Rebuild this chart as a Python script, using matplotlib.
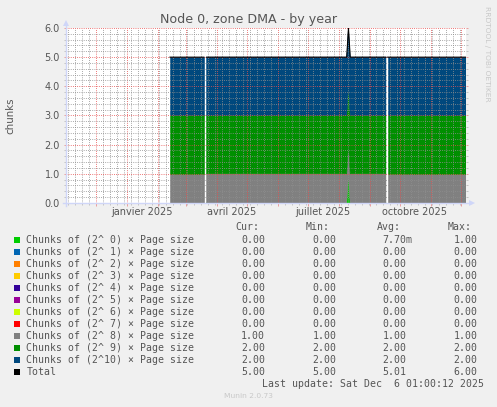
import matplotlib
matplotlib.use("Agg")
import matplotlib.pyplot as plt
import matplotlib.dates as mdates
from matplotlib.ticker import MultipleLocator, NullFormatter
from matplotlib.patches import Rectangle
import numpy as np
import pandas as pd

# sample times (NaN rows mark the two gaps)
times = ["2025-02-13 00:00", "2025-03-19 00:00", "2025-03-20 00:00",
         "2025-03-21 16:00", "2025-08-08 18:00", "2025-08-10 12:00",
         "2025-08-12 06:00", "2025-09-17 00:00", "2025-09-18 00:00",
         "2025-09-18 16:00", "2025-12-05 16:00"]
nan = np.nan
order0 = [0, 0, nan, 0, 0, 1, 0, 0, nan, 0, 0]
order1 = [0, 0, nan, 0, 0, 0, 0, 0, nan, 0, 0]
order2 = [0, 0, nan, 0, 0, 0, 0, 0, nan, 0, 0]
order3 = [0, 0, nan, 0, 0, 0, 0, 0, nan, 0, 0]
order4 = [0, 0, nan, 0, 0, 0, 0, 0, nan, 0, 0]
order5 = [0, 0, nan, 0, 0, 0, 0, 0, nan, 0, 0]
order6 = [0, 0, nan, 0, 0, 0, 0, 0, nan, 0, 0]
order7 = [0, 0, nan, 0, 0, 0, 0, 0, nan, 0, 0]
order8 = [1, 1, nan, 1, 1, 1, 1, 1, nan, 1, 1]
order9 = [2, 2, nan, 2, 2, 2, 2, 2, nan, 2, 2]
order10 = [2, 2, nan, 2, 2, 2, 2, 2, nan, 2, 2]

labels = ["Chunks of (2^ 0) × Page size", "Chunks of (2^ 1) × Page size",
          "Chunks of (2^ 2) × Page size", "Chunks of (2^ 3) × Page size",
          "Chunks of (2^ 4) × Page size", "Chunks of (2^ 5) × Page size",
          "Chunks of (2^ 6) × Page size", "Chunks of (2^ 7) × Page size",
          "Chunks of (2^ 8) × Page size", "Chunks of (2^ 9) × Page size",
          "Chunks of (2^10) × Page size", "Total"]
colors = ["#00CC00", "#0066B3", "#FF8000", "#FFCC00", "#330099", "#990099",
          "#CCFF00", "#FF0000", "#808080", "#008F00", "#00487D", "#000000"]

cur = [0, 0, 0, 0, 0, 0, 0, 0, 1, 2, 2, 5]
mins = [0, 0, 0, 0, 0, 0, 0, 0, 1, 2, 2, 5]
avgs = [0.0077, 0, 0, 0, 0, 0, 0, 0, 1, 2, 2, 5.01]
maxs = [1, 0, 0, 0, 0, 0, 0, 0, 1, 2, 2, 6]

month_labels = ["janvier 2025", "avril 2025", "juillet 2025", "octobre 2025"]
label_dates = ["2025-01-16", "2025-04-16", "2025-07-16", "2025-10-16"]

start = pd.Timestamp("2024-11-01 01:00")
end = pd.Timestamp("2025-12-06 01:00")

W, H = 497, 407
font_col = "#555555"
axis_col = "#CFD6F8"
minor_col = (0.56, 0.56, 0.56, 0.3)
major_col = (0.91, 0.31, 0.31, 0.33)

fig = plt.figure(figsize=(W / 100, H / 100), dpi=100, facecolor="#F0F0F0")

# overlay in pixel coordinates for title / legend text
ov = fig.add_axes([0, 0, 1, 1], zorder=0)
ov.set_xlim(0, W)
ov.set_ylim(H, 0)
ov.axis("off")
ov.patch.set_alpha(0)

ax = fig.add_axes([66 / W, (H - 203) / H, 400 / W, 175 / H], zorder=1)
ax.set_facecolor("white")

x = pd.to_datetime(times)
series = [order0, order1, order2, order3, order4, order5, order6, order7,
          order8, order9, order10]
base = np.zeros(len(times))
for vals, col in zip(series, colors):
    vals = np.array(vals, dtype=float)
    top = base + vals
    if np.nansum(vals) > 0:
        ax.fill_between(x, base, top, color=col, lw=0.4, zorder=1)
    base = top
ax.plot(x, base, color="black", lw=0.8, zorder=3)

ax.set_xlim(start, end)
ax.set_ylim(0, 6)

ax.xaxis.set_major_locator(mdates.MonthLocator())
ax.xaxis.set_minor_locator(mdates.WeekdayLocator(byweekday=mdates.SU))
ax.xaxis.set_major_formatter(NullFormatter())
ax.yaxis.set_major_locator(MultipleLocator(1))
ax.yaxis.set_minor_locator(MultipleLocator(0.2))
ax.set_yticks(range(0, 7))
ax.set_yticklabels([f"{v:.1f}" for v in range(0, 7)])

ax.set_axisbelow(False)
ax.grid(which="minor", color=minor_col, lw=0.72, linestyle=(0, (0.72, 1.44)))
ax.grid(which="major", color=major_col, lw=0.72, linestyle=(0, (0.72, 1.44)))

ax.tick_params(axis="x", which="major", direction="out", length=2.2,
               color=(0.91, 0.31, 0.31, 0.5), width=0.72)
ax.tick_params(axis="x", which="minor", direction="out", length=1.5,
               color=(0.56, 0.56, 0.56, 0.45), width=0.72)
ax.tick_params(axis="y", which="both", direction="out", left=True,
               right=True, length=1.5, width=0.72, labelsize=7,
               labelcolor=font_col, pad=2.9)
ax.tick_params(axis="y", which="major", color=(0.91, 0.31, 0.31, 0.5))
ax.tick_params(axis="y", which="minor", color=(0.56, 0.56, 0.56, 0.45))

for s in ax.spines.values():
    s.set_visible(False)

# rrdtool style axes with arrows
ax.plot([0, 0], [-0.015, 1.025], color=axis_col, lw=1, transform=ax.transAxes,
        clip_on=False, zorder=4)
ax.plot([-0.008, 1.012], [0, 0], color=axis_col, lw=1, transform=ax.transAxes,
        clip_on=False, zorder=4)
ax.plot([0], [1.028], marker="^", ms=4.2, color=axis_col, mew=0,
        transform=ax.transAxes, clip_on=False, zorder=4)
ax.plot([1.016], [0], marker=">", ms=4.2, color=axis_col, mew=0,
        transform=ax.transAxes, clip_on=False, zorder=4)

for lab, d in zip(month_labels, label_dates):
    ax.text(pd.Timestamp(d), -9.4 / 175, lab, transform=ax.get_xaxis_transform(),
            ha="center", va="center", fontsize=7, color=font_col)

ov.text(248.5, 20, "Node 0, zone DMA - by year", ha="center", va="center",
        fontsize=9.1, color=font_col)
ov.text(10, 115.5, "chunks", rotation=90, ha="center", va="center",
        fontsize=7.4, color=font_col)
ov.text(487.5, 53.5, "RRDTOOL / TOBI OETIKER", rotation=270, ha="center",
        va="center", fontsize=5.4, color="#C8C8C8")


def fmt(v):
    if v != 0 and abs(v) < 1:
        return f"{v * 1000:.2f}m"
    return f"{v:.2f}"


mono = dict(family="DejaVu Sans Mono", fontsize=7.15, color=font_col,
            va="center", ha="left")
for hx, h in zip([235.3, 306.0, 376.7, 447.3], ["Cur:", "Min:", "Avg:", "Max:"]):
    ov.text(hx, 227.3, h, **mono)

for i, (lab, col) in enumerate(zip(labels, colors)):
    y = 239.7 + 12 * i
    ov.add_patch(Rectangle((14, y - 3), 6, 6, facecolor=col, edgecolor="none"))
    ov.text(26.3, y, lab, **mono)
    for vx, v in zip([241.0, 312.3, 382.7, 453.3], [cur[i], mins[i], avgs[i], maxs[i]]):
        ov.text(vx, y, fmt(v), **mono)

ov.text(261.7, 383.7, "Last update: Sat Dec  6 01:00:12 2025", **mono)
ov.text(248, 396, "Munin 2.0.73", ha="center", va="center", fontsize=5.4,
        color="#C8C8C8")

fig.savefig("out.png", dpi=100, facecolor=fig.get_facecolor())
